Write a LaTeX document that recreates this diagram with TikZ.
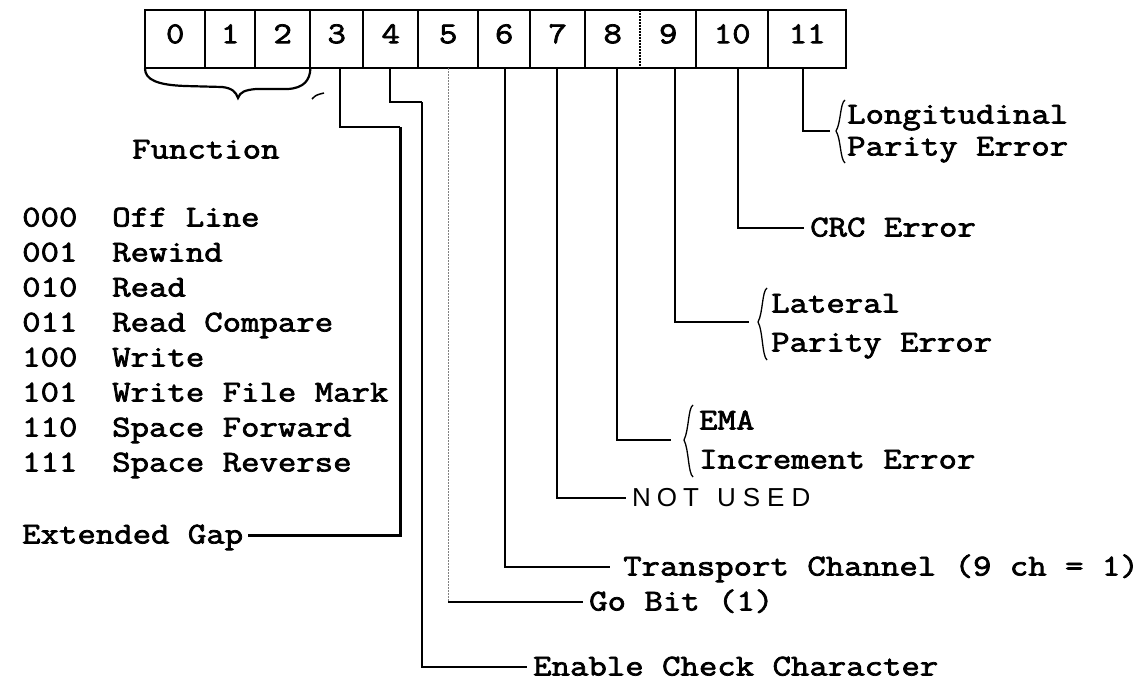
\documentclass[tikz,border=0pt]{standalone}
\usepackage{fontspec}
\newfontfamily\tw{Latin Modern Mono}[FakeBold=2.4, FakeStretch=1.18]
\newfontfamily\sfl{Liberation Sans}
\begin{document}
\begin{tikzpicture}[x=1pt,y=-1pt,
  lbl/.style={font=\tw\fontsize{30.3}{35}\selectfont, inner xsep=6pt, inner ysep=0pt, text height=17pt, text depth=0pt, anchor=west},
  cell/.style={inner sep=0pt, minimum height=58pt, text height=33pt, text depth=25pt, anchor=north west, font=\tw\fontsize{30.3}{35}\selectfont},
  boxline/.style={line width=2pt},
  conn/.style={line width=2pt},
  thickconn/.style={line width=3pt},
  dotline/.style={line width=1.2pt, gray, dash pattern=on 1.5pt off 1.5pt},
  br/.style={line width=1.3pt},
]
\useasboundingbox (0,0) rectangle (1141,685);
% register cells
\foreach \i/\l/\r in {0/145/205, 1/205/255, 2/255/310, 3/310/363, 4/363/418, 5/418/478, 6/478/530, 7/530/585, 8/585/640, 9/640/696, 10/696/768, 11/768/846}
  \node[cell, minimum width={(\r-\l)*1pt}] (b\i) at (\l,10) {\i};
\draw[boxline] (b0.north west) rectangle (b11.south east);
\foreach \i in {0,...,7,9,10}
  \draw[boxline] (b\i.north east) -- (b\i.south east);
\draw[boxline, densely dotted] (b8.north east) -- (b8.south east);
% brace under bits 0-2
\draw[line width=2.2pt] (b0.south west) .. controls (145,80) and (158,85) .. (185,86) -- (222,87) .. controls (232,88) and (236,92) .. (238,98) .. controls (240,92) and (245,90) .. (256,89) -- (288,89) .. controls (304,88) and (310,80) .. (b2.south east);
\draw[line width=1.5pt] (312,99) .. controls (316,95) .. (324,93);
% left texts
\node[lbl] (fn) at (126,150) {Function};
\foreach \k/\c/\d in {0/000/Off Line, 1/001/Rewind, 2/010/Read, 3/011/Read Compare, 4/100/Write, 5/101/Write File Mark, 6/110/Space Forward, 7/111/Space Reverse}{
  \node[lbl] (c\k) at (16,218+35*\k) {\c};
  \node[lbl] (d\k) at (106,218+35*\k) {\d};
}
\node[lbl] (eg) at (16,535) {Extended Gap};
% right texts
\node[lbl] (ecc) at (527,667) {Enable Check Character};
\node[lbl] (go) at (583,602) {Go Bit (1)};
\node[lbl] (tc) at (617,567) {Transport Channel (9 ch = 1)};
\node[lbl, font=\sfl\fontsize{26}{30}\selectfont] (nu) at (626,498) {N\hspace{6pt}O\hspace{6pt}T\hspace{18pt}U\hspace{7pt}S\hspace{7pt}E\hspace{7pt}D};
\node[lbl] (ema1) at (693,421) {EMA};
\node[lbl] (ema2) at (693,460) {Increment Error};
\node[lbl] (lat1) at (765,304) {Lateral};
\node[lbl] (lat2) at (765,343) {Parity Error};
\node[lbl] (crc) at (804,228) {CRC Error};
\node[lbl] (lon1) at (841,115) {Longitudinal};
\node[lbl] (lon2) at (841,147) {Parity Error};
% text braces
\draw[br] (845,100) .. controls (840,103) and (841,123) .. (836,131) .. controls (841,139) and (840,159) .. (845,163);
\draw[br] (767,288) .. controls (762,291) and (763,313) .. (758,322) .. controls (763,331) and (762,356) .. (767,360);
\draw[br] (693,405) .. controls (688,408) and (689,430) .. (684,440) .. controls (689,450) and (688,473) .. (693,477);
% connector bend points
\coordinate (k3) at (400,127);
\coordinate (k4) at (422,102);
\coordinate (t8) at (671,440);
\coordinate (t9) at (749,322);
\coordinate (t11) at (830,131);
% connectors
\draw[conn] ([xshift=3.5pt]b3.south) |- (k3);
\draw[thickconn] (k3) |- ([xshift=-1pt]eg.east);
\draw[conn] ([xshift=-0.5pt]b4.south) |- (k4);
\draw[line width=1.8pt] (k4) |- (ecc.west);
\draw[dotline] (b5.south) -- (b5.south |- go.west);
\draw[conn] (b5.south |- go.west) -- (go.west);
\draw[conn] ([xshift=1pt]b6.south) |- ([xshift=-7pt]tc.west);
\draw[conn] ([xshift=-0.5pt]b7.south) |- (nu.west);
\draw[conn] ([xshift=4.5pt]b8.south) |- (t8);
\draw[conn] ([xshift=7pt]b9.south) |- (t9);
\draw[conn] ([xshift=6pt]b10.south) |- (crc.west);
\draw[conn] ([xshift=-4pt]b11.south) |- (t11);
\end{tikzpicture}
\end{document}
